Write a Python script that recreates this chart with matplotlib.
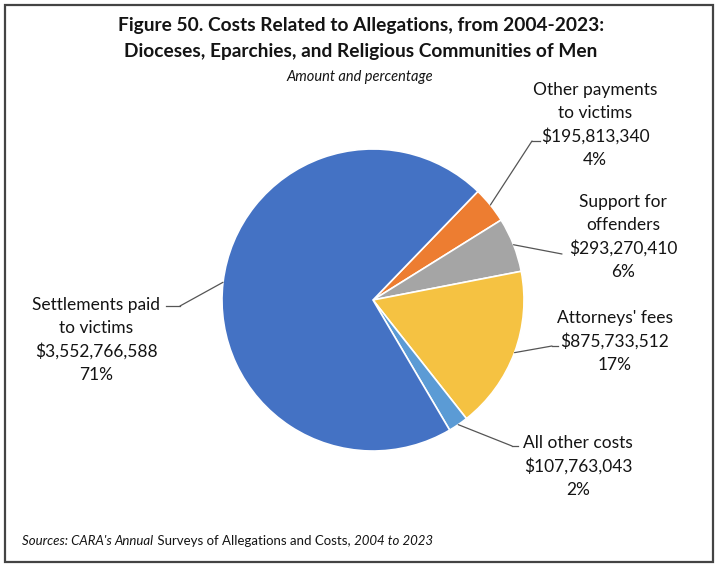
import matplotlib.pyplot as plt
from matplotlib.patches import Rectangle
from matplotlib.lines import Line2D
import numpy as np

# values
categories = ["Other payments\nto victims", "Support for\noffenders", "Attorneys' fees",
              "All other costs", "Settlements paid\nto victims"]
amounts = [195813340, 293270410, 875733512, 107763043, 3552766588]
pct_labels = ["4%", "6%", "17%", "2%", "71%"]
colors = ["#ED7D31", "#A5A5A5", "#F5C242", "#5B9BD5", "#4472C4"]

W, H = 720, 571
FONT = "Lato"
TXT = "#141414"


def px(x, y):
    return (x / W, 1 - y / H)


fig = plt.figure(figsize=(W / 100, H / 100), dpi=100)
fig.patch.set_facecolor("white")

# outer frame
fig.add_artist(Rectangle(px(5, 562), 708 / W, 557 / H, transform=fig.transFigure,
                         fill=False, edgecolor="#444444", linewidth=1.6))

# pie axes: centre (373, 300), radius 151 px
cx, cy, r = 373, 300, 151
ax = fig.add_axes([(cx - r) / W, (H - cy - r) / H, 2 * r / W, 2 * r / H])
wedges, _ = ax.pie(amounts, colors=colors, startangle=46, counterclock=False,
                   wedgeprops=dict(edgecolor="white", linewidth=1.2))
ax.set_xlim(-1, 1)
ax.set_ylim(-1, 1)
ax.set_aspect("equal")
ax.axis("off")

# titles
fig.text(*px(361, 25), "Figure 50. Costs Related to Allegations, from 2004-2023:",
         ha="center", va="center", fontsize=13.8, fontweight="bold", family=FONT, color=TXT)
fig.text(*px(361, 51), "Dioceses, Eparchies, and Religious Communities of Men",
         ha="center", va="center", fontsize=13.8, fontweight="bold", family=FONT, color=TXT)
fig.text(*px(360, 77), "Amount and percentage", ha="center", va="center",
         fontsize=10.5, style="italic", family=FONT, color=TXT)

# label layout: (text centre x, top line y, leader end x, leader end y, hook dx)
layout = [
    (595, 90, 532, 141, 8),
    (623, 202, 562, 254, 0),
    (615, 318, 552, 346, 6),
    (578, 443, 512, 446, 6),
    (96, 305, 180, 306, -14),
]

for w, cat, amt, pct, (tx, ty, ex, ey, hook) in zip(wedges, categories, amounts, pct_labels, layout):
    lines = cat.split("\n") + ["${:,}".format(amt), pct]
    for i, ln in enumerate(lines):
        fig.text(*px(tx, ty + i * 23.3), ln, ha="center", va="center",
                 fontsize=12.5, family=FONT, color=TXT)
    mid = np.deg2rad((w.theta1 + w.theta2) / 2)
    ax.annotate("", xy=(np.cos(mid), np.sin(mid)), xycoords="data",
                xytext=px(ex, ey), textcoords="figure fraction",
                arrowprops=dict(arrowstyle="-", color="#555555", lw=0.9,
                                shrinkA=0, shrinkB=0))
    if hook:
        fig.add_artist(Line2D([ex / W, (ex + hook) / W], [1 - ey / H, 1 - ey / H],
                              transform=fig.transFigure, color="#555555", lw=0.9))

# source line, mixed italic / roman
parts = [("Sources: CARA's ", "italic"), ("Annual", "italic"),
         (" Surveys of Allegations and Costs,", "normal"), (" 2004 to 2023", "italic")]
prev = None
for txt, st in parts:
    if prev is None:
        prev = fig.text(*px(22, 541), txt, ha="left", va="center", fontsize=9.5,
                        style=st, family=FONT, color=TXT)
    else:
        prev = ax.annotate(txt, xy=(1, 0.5), xycoords=prev, ha="left", va="center",
                           fontsize=9.5, style=st, family=FONT, color=TXT,
                           annotation_clip=False)

fig.savefig("out.png", dpi=100, facecolor="white")
